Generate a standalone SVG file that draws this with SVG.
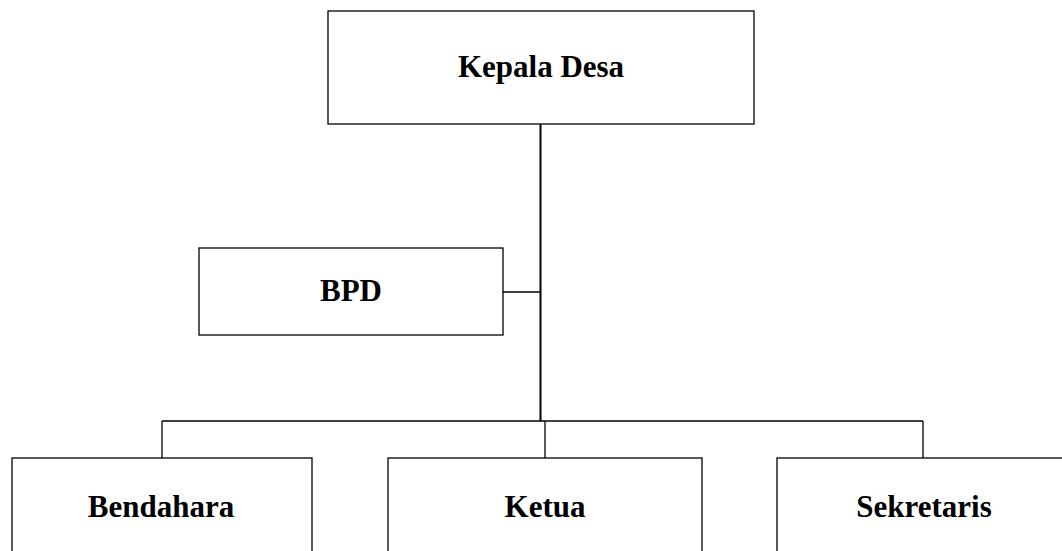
<svg xmlns="http://www.w3.org/2000/svg" width="1062" height="551" viewBox="0 0 1062 551">
<style>
.box{fill:#fff;stroke:#000;stroke-width:1.3}
.lbl{font-family:"Liberation Serif","Times New Roman",serif;font-weight:bold;font-size:31px;fill:#000;text-anchor:middle}
.ln{stroke:#000;fill:none}
</style>
<rect width="1062" height="551" fill="#fff"/>
<g id="connectors">
<line class="ln" x1="540.5" y1="124" x2="540.5" y2="421" stroke-width="2"/>
<line class="ln" x1="503" y1="292" x2="540" y2="292" stroke-width="1.3"/>
<line class="ln" x1="162" y1="421" x2="923" y2="421" stroke-width="1.3"/>
<line class="ln" x1="162" y1="421" x2="162" y2="458" stroke-width="1.3"/>
<line class="ln" x1="545" y1="421" x2="545" y2="458" stroke-width="1.3"/>
<line class="ln" x1="923" y1="421" x2="923" y2="458" stroke-width="1.3"/>
</g>
<g id="kepala-desa">
<rect class="box" x="328" y="11" width="426" height="113"/>
<text class="lbl" x="541" y="77">Kepala Desa</text>
</g>
<g id="bpd">
<rect class="box" x="199" y="248" width="304" height="87"/>
<text class="lbl" x="351" y="301">BPD</text>
</g>
<g id="bendahara">
<rect class="box" x="12" y="458" width="300" height="120"/>
<text class="lbl" x="161" y="517">Bendahara</text>
</g>
<g id="ketua">
<rect class="box" x="388" y="458" width="314" height="120"/>
<text class="lbl" x="545" y="517">Ketua</text>
</g>
<g id="sekretaris">
<rect class="box" x="777" y="458" width="310" height="120"/>
<text class="lbl" x="924" y="517">Sekretaris</text>
</g>
</svg>
